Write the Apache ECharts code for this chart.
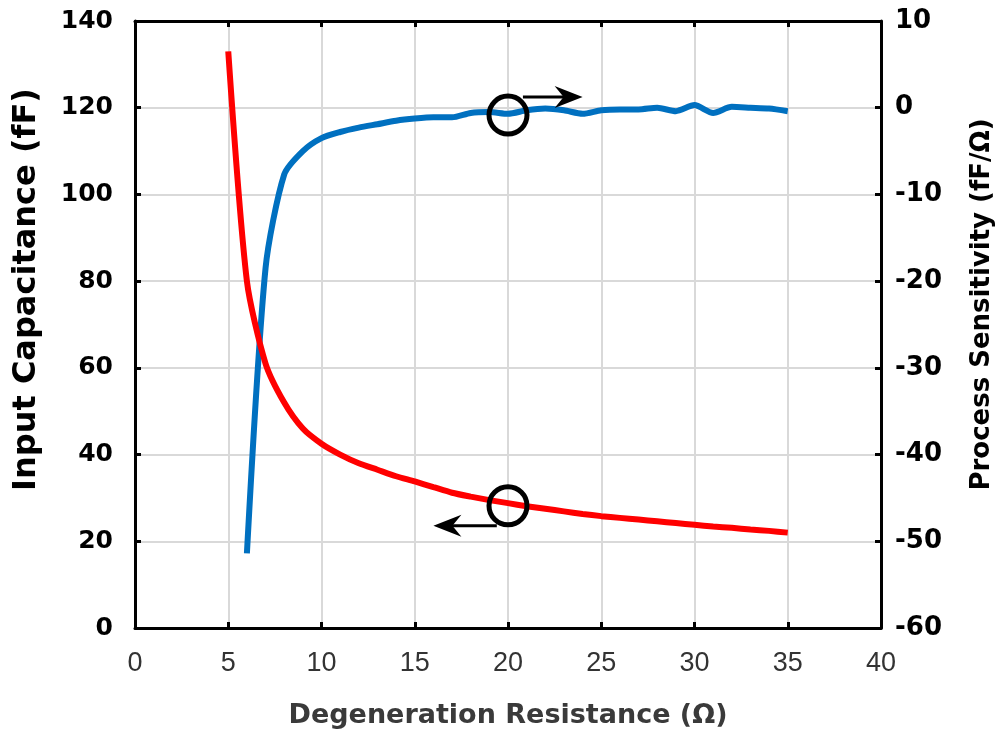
<!DOCTYPE html>
<html>
<head>
<meta charset="utf-8">
<script src="https://cdn.jsdelivr.net/npm/echarts@6/dist/echarts.min.js"></script>
<style>html,body{margin:0;padding:0;background:#fff}#c{width:998px;height:734px}</style>
</head>
<body>
<div id="c"></div>
<script>
// Data
const capX = [5,6,7,8,9,10,11,12,13,14,15,16,17,18,19,20,21,22,23,24,25,26,27,28,29,30,31,32,33,34,35];
const capacitance = [133,80,61,52,46,42.5,40,38,36.5,35,33.8,32.5,31.2,30.3,29.5,28.8,28.1,27.5,26.9,26.3,25.8,25.4,25.0,24.6,24.2,23.8,23.4,23.1,22.7,22.4,22.0];
const sensX = [6,7,8,9,10,11,12,13,14,15,16,17,18,19,20,21,22,23,24,25,26,27,28,29,30,31,32,33,34,35];
const sensitivity = [-51.4,-18.5,-7.7,-5.0,-3.5,-2.8,-2.3,-1.9,-1.5,-1.25,-1.1,-1.1,-0.6,-0.5,-0.7,-0.3,-0.1,-0.3,-0.7,-0.3,-0.2,-0.2,0.0,-0.4,0.3,-0.6,0.1,0.0,-0.1,-0.4];
const xTicks = {min:0, max:40, interval:5};
const leftTicks = {min:0, max:140, interval:20};
const rightTicks = {min:-60, max:10, interval:10};
const xTitle = 'Degeneration Resistance (Ω)';
const leftTitle = 'Input Capacitance (fF)';
const rightTitle = 'Process Sensitivity (fF/Ω)';
// Annotation anchors (data coordinates, left axis)
const circleUpper = [20, 118.3];
const circleLower = [20, 28.2];
const arrowUpper = [[20.8, 122.5], [24.0, 122.5]];
const arrowLower = [[19.4, 23.6], [16.0, 23.6]];

const chart = echarts.init(document.getElementById('c'), null, {renderer:'canvas'});
const WIDE = '"DejaVu Sans", Verdana, sans-serif';
const NARROW = '"Liberation Sans Narrow", "Liberation Sans", Arial, sans-serif';
const axisLine = {show:true, onZero:false, lineStyle:{color:'#000', width:3}};
const tick = {show:true, inside:true, length:6, lineStyle:{color:'#000', width:3}};
const split = {show:true, lineStyle:{color:'#d9d9d9', width:2}};

chart.setOption({
  animation:false,
  backgroundColor:'#fff',
  grid:{left:135, right:117, top:21, bottom:106, containLabel:false, outerBoundsMode:'none'},
  xAxis:[{
    type:'value', min:xTicks.min, max:xTicks.max, interval:xTicks.interval,
    position:'bottom',
    axisLine:axisLine, axisTick:tick, splitLine:split,
    axisLabel:{color:'#333', fontFamily:NARROW, fontSize:27, margin:22},
    name:xTitle, nameLocation:'middle', nameGap:74,
    nameTextStyle:{color:'#3a3a3a', fontFamily:WIDE, fontSize:27, fontWeight:'bold'}
  },{
    type:'value', min:xTicks.min, max:xTicks.max, interval:xTicks.interval,
    position:'top',
    axisLine:axisLine, axisTick:tick, splitLine:{show:false}, axisLabel:{show:false}
  }],
  yAxis:[{
    type:'value', min:leftTicks.min, max:leftTicks.max, interval:leftTicks.interval,
    position:'left',
    axisLine:axisLine, axisTick:tick, splitLine:split,
    axisLabel:{color:'#000', fontFamily:WIDE, fontSize:25, fontWeight:'bold', margin:22},
    name:leftTitle, nameLocation:'middle', nameGap:92, nameRotate:90,
    nameTextStyle:{color:'#000', fontFamily:WIDE, fontSize:32, fontWeight:'bold', padding:[0,0,0,70]}
  },{
    type:'value', min:rightTicks.min, max:rightTicks.max, interval:rightTicks.interval,
    position:'right',
    axisLine:axisLine, axisTick:tick, splitLine:{show:false},
    axisLabel:{color:'#000', fontFamily:WIDE, fontSize:26, fontWeight:'bold', margin:14},
    name:rightTitle, nameLocation:'middle', nameGap:88, nameRotate:90,
    nameTextStyle:{color:'#000', fontFamily:WIDE, fontSize:26, fontWeight:'bold', padding:[0,0,0,40]}
  }],
  series:[{
    type:'line', name:leftTitle, xAxisIndex:0, yAxisIndex:0, showSymbol:false,
    smooth:0.25,
    data:capX.map((x,i)=>[x, capacitance[i]]),
    lineStyle:{color:'#ff0000', width:6}, itemStyle:{color:'#ff0000'}, z:3
  },{
    type:'line', name:rightTitle, xAxisIndex:0, yAxisIndex:1, showSymbol:false,
    smooth:0.25,
    data:sensX.map((x,i)=>[x, sensitivity[i]]),
    lineStyle:{color:'#0070c0', width:6}, itemStyle:{color:'#0070c0'}, z:2
  }]
});

function px(p){ return chart.convertToPixel({xAxisIndex:0, yAxisIndex:0}, p); }
function arrow(seg){
  const a = px(seg[0]), b = px(seg[1]);
  const dir = b[0] > a[0] ? 1 : -1;
  const t = b;
  return [
    {type:'line', shape:{x1:a[0], y1:a[1], x2:t[0]-dir*18, y2:t[1]}, style:{stroke:'#000', lineWidth:3}, z:10},
    {type:'polygon', shape:{points:[[t[0],t[1]],[t[0]-dir*28,t[1]-11],[t[0]-dir*19,t[1]],[t[0]-dir*28,t[1]+11]]}, style:{fill:'#000'}, z:10}
  ];
}
const c1 = px(circleUpper), c2 = px(circleLower);
chart.setOption({graphic:[
  {type:'circle', shape:{cx:c1[0], cy:c1[1], r:19}, style:{fill:'none', stroke:'#000', lineWidth:5}, z:10},
  {type:'circle', shape:{cx:c2[0], cy:c2[1], r:19}, style:{fill:'none', stroke:'#000', lineWidth:5}, z:10},
  ...arrow(arrowUpper), ...arrow(arrowLower)
]});
</script>
</body>
</html>
